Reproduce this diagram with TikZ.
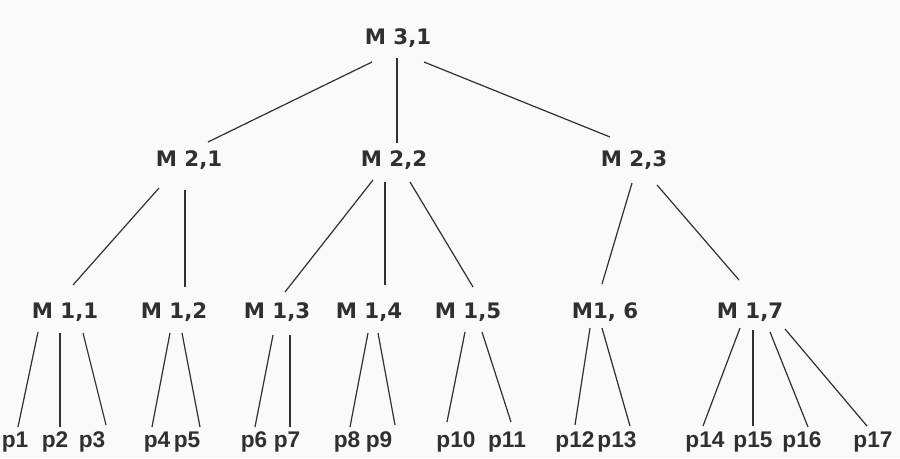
\documentclass[tikz,border=0pt]{standalone}
\usepackage{fontspec}
\setmainfont{DejaVu Sans}
\newfontfamily\leaffont{Liberation Sans}
\usetikzlibrary{calc}
\definecolor{ink}{HTML}{303030}
\definecolor{bg}{HTML}{FAFAFA}
\tikzset{
  lbl/.style={inner sep=0pt, text=ink, font=\fontsize{16}{18}\selectfont\bfseries, text height=0.73em, text depth=0pt},
  leaf/.style={inner sep=0pt, text=ink, font=\leaffont\fontsize{17}{19}\selectfont\bfseries, text height=0.72em, text depth=0.21em},
  edge/.style={draw=ink, line width=0.9pt}
}
\begin{document}
\begin{tikzpicture}[x=0.75pt,y=-0.75pt]
\fill[bg] (0,0) rectangle (900,458);
\useasboundingbox (0,0) rectangle (900,458);
% level 3
\node[lbl] (m31) at (398,40) {M 3,1};
% level 2
\node[lbl] (m21) at (189,162) {M 2,1};
\node[lbl] (m22) at (394,162) {M 2,2};
\node[lbl] (m23) at (634,162) {M 2,3};
% level 1
\node[lbl] (m11) at (65,314) {M 1,1};
\node[lbl] (m12) at (174,314) {M 1,2};
\node[lbl] (m13) at (277,314) {M 1,3};
\node[lbl] (m14) at (369,314) {M 1,4};
\node[lbl] (m15) at (468,314) {M 1,5};
\node[lbl] (m16) at (605,314) {M1, 6};
\node[lbl] (m17) at (750,314) {M 1,7};
% leaves
\foreach \n/\x in {1/15,2/55,3/92,4/157,5/187,6/254,7/287,8/347,9/379,10/456,11/507,12/575,13/617,14/705,15/753,16/802,17/873}
  \node[leaf] (p\n) at (\x,444) {p\n};
% edges level 3 -> 2
\draw[edge] ($(m31)+(-26,22)$) -- ($(m21)+(19,-20)$);
\draw[edge] ($(m31)+(-1,18)$) -- ($(m22)+(3,-19)$);
\draw[edge] ($(m31)+(26,22)$) -- ($(m23)+(-24,-25)$);
% edges level 2 -> 1
\draw[edge] ($(m21)+(-30,26)$) -- ($(m11)+(8,-29)$);
\draw[edge] ($(m21)+(-4,28)$) -- ($(m12)+(11,-27)$);
\draw[edge] ($(m22)+(-21,18)$) -- ($(m13)+(8,-22)$);
\draw[edge] ($(m22)+(-9,20)$) -- ($(m14)+(16,-29)$);
\draw[edge] ($(m22)+(16,20)$) -- ($(m15)+(5,-27)$);
\draw[edge] ($(m23)+(-2,21)$) -- ($(m16)+(-3,-30)$);
\draw[edge] ($(m23)+(23,23)$) -- ($(m17)+(-11,-34)$);
% edges level 1 -> leaves
\draw[edge] ($(m11)+(-27,18)$) -- ($(p1)+(3,-17)$);
\draw[edge] ($(m11)+(-5,19)$) -- ($(p2)+(5,-17)$);
\draw[edge] ($(m11)+(18,19)$) -- ($(p3)+(14,-19)$);
\draw[edge] ($(m12)+(-4,19)$) -- ($(p4)+(-5,-17)$);
\draw[edge] ($(m12)+(8,19)$) -- ($(p5)+(13,-17)$);
\draw[edge] ($(m13)+(-4,21)$) -- ($(p6)+(1,-17)$);
\draw[edge] ($(m13)+(13,21)$) -- ($(p7)+(3,-17)$);
\draw[edge] ($(m14)+(-1,19)$) -- ($(p8)+(3,-17)$);
\draw[edge] ($(m14)+(9,19)$) -- ($(p9)+(16,-19)$);
\draw[edge] ($(m15)+(-3,18)$) -- ($(p10)+(-9,-22)$);
\draw[edge] ($(m15)+(14,18)$) -- ($(p11)+(4,-22)$);
\draw[edge] ($(m16)+(-15,14)$) -- ($(p12)+(0,-19)$);
\draw[edge] ($(m16)+(-3,14)$) -- ($(p13)+(13,-18)$);
\draw[edge] ($(m17)+(-10,14)$) -- ($(p14)+(-2,-18)$);
\draw[edge] ($(m17)+(3,16)$) -- ($(p15)+(0,-18)$);
\draw[edge] ($(m17)+(20,18)$) -- ($(p16)+(6,-17)$);
\draw[edge] ($(m17)+(35,15)$) -- ($(p17)+(-6,-18)$);
\end{tikzpicture}
\end{document}
